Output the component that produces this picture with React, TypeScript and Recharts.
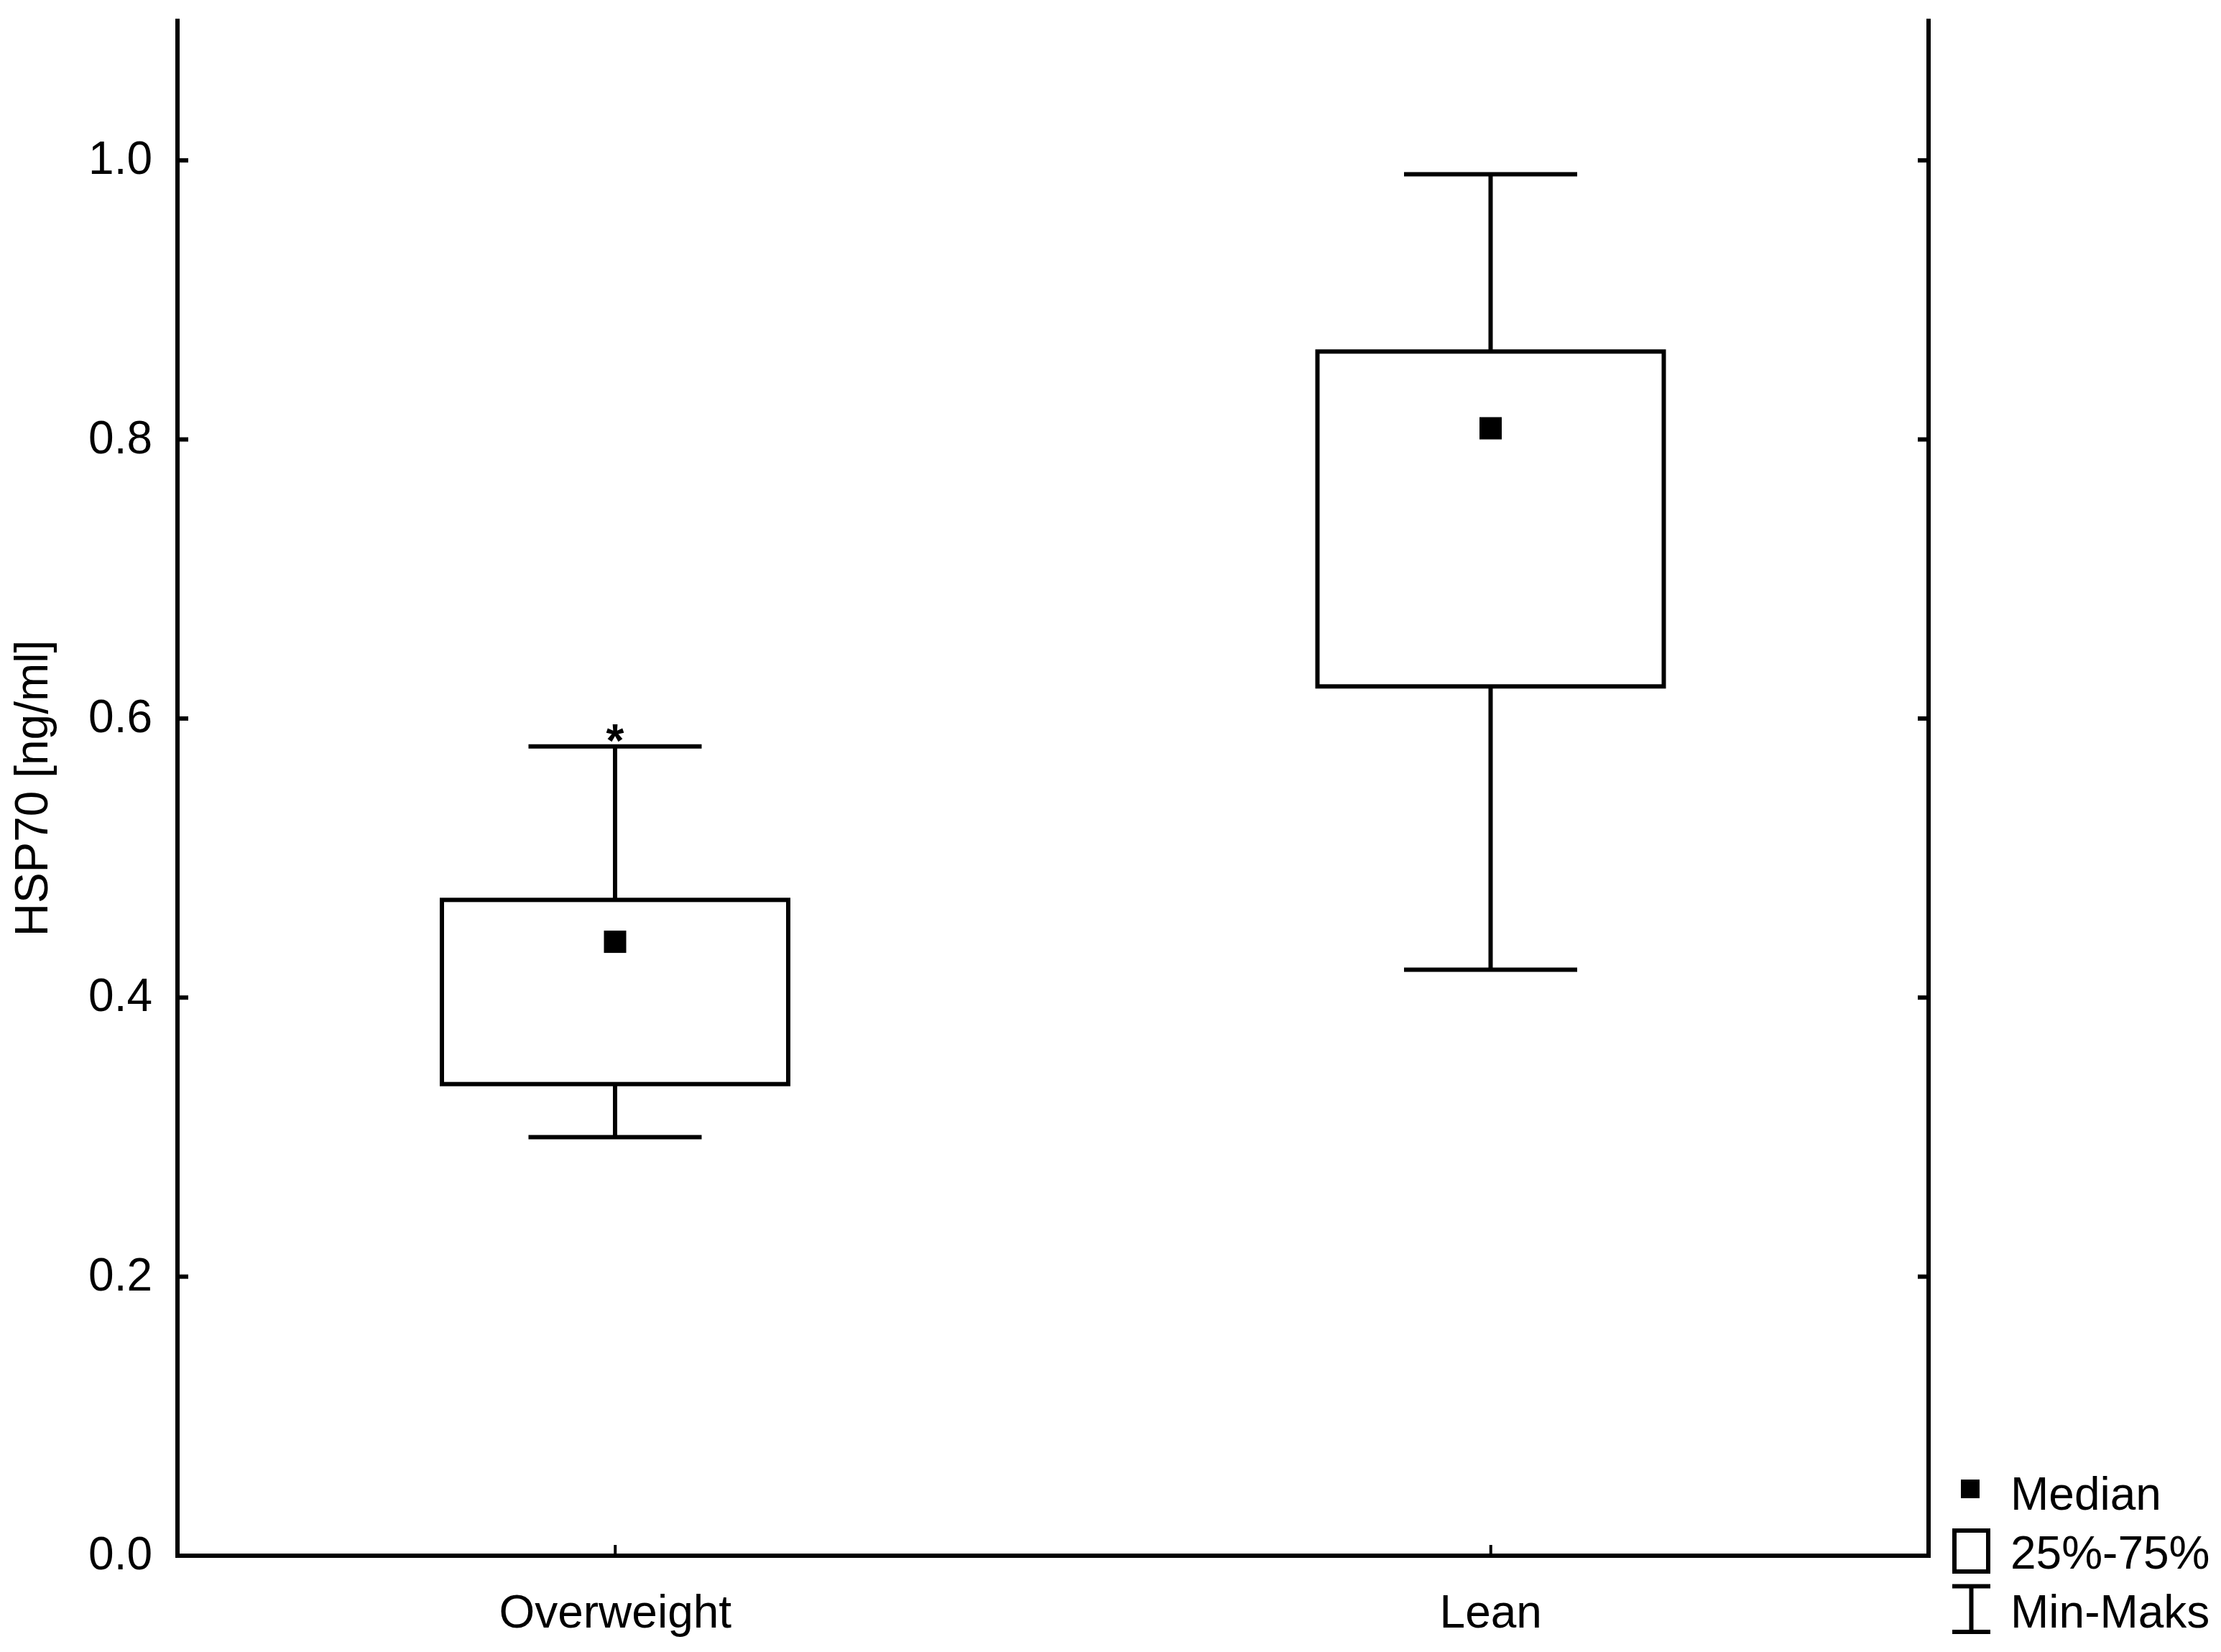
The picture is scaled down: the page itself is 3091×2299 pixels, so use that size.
import React from 'react';
import { ComposedChart, Bar, XAxis, YAxis, Legend } from 'recharts';

const groups = ['Overweight', 'Lean'];
const minValues = [0.30, 0.42];
const q1Values = [0.338, 0.623];
const medianValues = [0.44, 0.808];
const q3Values = [0.47, 0.863];
const maxValues = [0.58, 0.99];
const markers = ['*', ''];
const yTicks = [0, 0.2, 0.4, 0.6, 0.8, 1.0];
const legendLabels = ['Median', '25%-75%', 'Min-Maks'];
const yLabel = 'HSP70 [ng/ml]';

const data = groups.map((g, i) => ({
  group: g,
  range: [minValues[i], maxValues[i]],
  min: minValues[i],
  q1: q1Values[i],
  median: medianValues[i],
  q3: q3Values[i],
  max: maxValues[i],
  marker: markers[i],
}));

const FONT = '"Liberation Sans", Arial, sans-serif';
const FS = 64;
const SW = 6;

function BoxShape(props: any) {
  const { x, y, width, height, payload } = props;
  if (payload == null) return null;
  const top = Math.min(y, y + height);
  const h = Math.abs(height);
  const lo = payload.min;
  const hi = payload.max;
  const py = (v: number) => top + (h * (hi - v)) / (hi - lo);
  const cx = x + width / 2;
  const capHalf = width / 4;
  const yMax = py(payload.max);
  const yMin = py(payload.min);
  const yQ3 = py(payload.q3);
  const yQ1 = py(payload.q1);
  const yMed = py(payload.median);
  const m = 31;
  return (
    <g>
      <line x1={cx} x2={cx} y1={yMax} y2={yQ3} stroke="#000" strokeWidth={SW} />
      <line x1={cx} x2={cx} y1={yQ1} y2={yMin} stroke="#000" strokeWidth={SW} />
      <line x1={cx - capHalf} x2={cx + capHalf} y1={yMax} y2={yMax} stroke="#000" strokeWidth={SW} />
      <line x1={cx - capHalf} x2={cx + capHalf} y1={yMin} y2={yMin} stroke="#000" strokeWidth={SW} />
      <rect x={x} y={yQ3} width={width} height={yQ1 - yQ3} fill="#fff" stroke="#000" strokeWidth={SW} />
      <rect x={cx - m / 2} y={yMed - m / 2} width={m} height={m} fill="#000" />
      {payload.marker ? (
        <text x={cx} y={yMax + 14} textAnchor="middle" fontFamily={FONT} fontSize={FS} fontWeight="bold" fill="#000">
          {payload.marker}
        </text>
      ) : null}
    </g>
  );
}

function LeftTick(props: any) {
  const { x, y, payload } = props;
  return (
    <g>
      <line x1={x} x2={x + 15} y1={y} y2={y} stroke="#000" strokeWidth={SW} />
      <text x={x - 35} y={y + 19} textAnchor="end" fontFamily={FONT} fontSize={FS} fill="#000">
        {Number(payload.value).toFixed(1)}
      </text>
    </g>
  );
}

function RightTick(props: any) {
  const { x, y } = props;
  return <line x1={x - 15} x2={x} y1={y} y2={y} stroke="#000" strokeWidth={SW} />;
}

function BottomTick(props: any) {
  const { x, y, payload } = props;
  return (
    <g>
      <line x1={x} x2={x} y1={y} y2={y - 15} stroke="#000" strokeWidth={4} />
      <text x={x} y={y + 100} textAnchor="middle" fontFamily={FONT} fontSize={FS} fill="#000">
        {payload.value}
      </text>
    </g>
  );
}

function YLabel(props: any) {
  const vb = props.viewBox || {};
  const cy = (vb.y || 0) + (vb.height || 0) / 2;
  const bx = 66;
  return (
    <text
      x={bx}
      y={cy}
      transform={`rotate(-90 ${bx} ${cy})`}
      textAnchor="middle"
      fontFamily={FONT}
      fontSize={FS}
      fill="#000"
    >
      {yLabel}
    </text>
  );
}

function LegendContent() {
  return (
    <svg width={391} height={259} style={{ display: 'block', overflow: 'visible' }}>
      <rect x={29} y={19} width={26} height={26} fill="#000" />
      <text x={98} y={61} fontFamily={FONT} fontSize={FS} fill="#000">{legendLabels[0]}</text>
      <rect x={20} y={90} width={47} height={57} fill="#fff" stroke="#000" strokeWidth={SW} />
      <text x={98} y={143} fontFamily={FONT} fontSize={FS} fill="#000">{legendLabels[1]}</text>
      <line x1={17} x2={70} y1={167.5} y2={167.5} stroke="#000" strokeWidth={SW} />
      <line x1={17} x2={70} y1={231} y2={231} stroke="#000" strokeWidth={SW} />
      <line x1={43.5} x2={43.5} y1={167.5} y2={231} stroke="#000" strokeWidth={SW} />
      <text x={98} y={225} fontFamily={FONT} fontSize={FS} fill="#000">{legendLabels[2]}</text>
    </svg>
  );
}

const axisLineStyle = { stroke: '#000', strokeWidth: SW, strokeLinecap: 'square' as const };

export default function App() {
  return (
    <div style={{ position: 'absolute', left: 0, top: 0, width: 3091, height: 2299, background: '#fff' }}>
      <ComposedChart
        width={3091}
        height={2299}
        data={data}
        margin={{ top: 29, right: 307, bottom: 0, left: 0 }}
      >
        <XAxis
          dataKey="group"
          type="category"
          height={134}
          axisLine={axisLineStyle}
          tickLine={false}
          tickSize={0}
          tickMargin={0}
          tick={<BottomTick />}
          interval={0}
        />
        <XAxis
          xAxisId="top"
          dataKey="group"
          type="category"
          orientation="top"
          height={0}
          axisLine={axisLineStyle}
          tickLine={false}
          tick={false}
        />
        <YAxis
          type="number"
          domain={[0, 1.1]}
          ticks={yTicks}
          width={247}
          axisLine={axisLineStyle}
          tickLine={false}
          tickSize={0}
          tickMargin={0}
          tick={<LeftTick />}
          interval={0}
          allowDataOverflow
          label={{ content: <YLabel /> }}
        />
        <YAxis
          yAxisId="right"
          orientation="right"
          type="number"
          domain={[0, 1.1]}
          ticks={yTicks}
          width={100}
          axisLine={axisLineStyle}
          tickLine={false}
          tickSize={0}
          tickMargin={0}
          tick={<RightTick />}
          interval={0}
          allowDataOverflow
        />
        <Bar dataKey="range" barSize={482} isAnimationActive={false} shape={<BoxShape />} />
        <Legend
          layout="vertical"
          align="center"
          verticalAlign="middle"
          content={<LegendContent />}
          wrapperStyle={{ position: 'absolute', left: 2700, top: 2040, width: 391, height: 259 }}
        />
      </ComposedChart>
    </div>
  );
}
